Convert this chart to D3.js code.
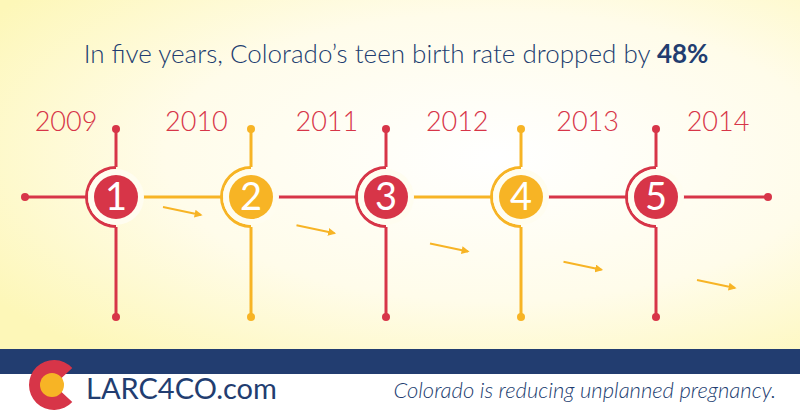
<!DOCTYPE html>
<html><head><meta charset="utf-8">
<script src="https://cdn.jsdelivr.net/npm/d3@7"></script>
<style>body{margin:0;overflow:hidden}svg{display:block}</style>
</head><body><div id="chart"></div>
<script>
const years = ['2009', '2010', '2011', '2012', '2013', '2014'];
const steps = [1, 2, 3, 4, 5];
const stepColors = ['red', 'yellow', 'red', 'yellow', 'red'];
const arrowDrop = [0, 1, 2, 3, 4]; // descending arrows between milestones

const W = 800, H = 418;
const RED = '#d73548', YEL = '#f7b425', NAVY = '#223d70';
const col = c => c === 'red' ? RED : YEL;

const svg = d3.select('#chart').append('svg').attr('width', W).attr('height', H);
const defs = svg.append('defs');
const g = defs.append('radialGradient').attr('id', 'bg').attr('cx', '62%').attr('cy', '45%').attr('r', '75%');
g.append('stop').attr('offset', '0%').attr('stop-color', '#ffffff');
g.append('stop').attr('offset', '55%').attr('stop-color', '#fffcea');
g.append('stop').attr('offset', '100%').attr('stop-color', '#fdf7b8');
svg.append('rect').attr('width', W).attr('height', 349).attr('fill', 'url(#bg)');

const x = d3.scalePoint().domain(steps).range([116, 656]);
const cy = 197;

svg.append('text').attr('x', 396).attr('y', 63).attr('text-anchor', 'middle')
  .attr('font-family', 'Lato, sans-serif').attr('font-weight', 300).attr('font-size', 26).attr('fill', NAVY)
  .text('In five years, Colorado\u2019s teen birth rate dropped by ')
  .append('tspan').attr('font-weight', 'bold').text('48%');

// horizontal segments
const segs = [[25, x(1), RED]];
steps.slice(0, -1).forEach((s, i) => segs.push([x(s), x(s + 1), col(stepColors[i + 1])]));
segs.push([x(5), 768, RED]);
svg.selectAll('.seg').data(segs).join('line')
  .attr('x1', d => d[0]).attr('x2', d => d[1]).attr('y1', cy).attr('y2', cy)
  .attr('stroke', d => d[2]).attr('stroke-width', 3);
svg.selectAll('.end').data([25, 768]).join('circle')
  .attr('cx', d => d).attr('cy', cy).attr('r', 4).attr('fill', RED);

// nodes
const node = svg.selectAll('.node').data(steps).join('g')
  .attr('transform', d => `translate(${x(d)},${cy})`);
node.append('line').attr('y1', -68).attr('y2', -30).attr('stroke', (d, i) => col(stepColors[i])).attr('stroke-width', 3);
node.append('line').attr('y1', 30).attr('y2', 120).attr('stroke', (d, i) => col(stepColors[i])).attr('stroke-width', 3);
node.append('circle').attr('cy', -68).attr('r', 4).attr('fill', (d, i) => col(stepColors[i]));
node.append('circle').attr('cy', 120).attr('r', 4).attr('fill', (d, i) => col(stepColors[i]));
node.append('path').attr('d', d3.arc()({innerRadius: 28, outerRadius: 31, startAngle: Math.PI, endAngle: 2 * Math.PI}))
  .attr('fill', (d, i) => col(stepColors[i]));
node.append('circle').attr('r', 28).attr('fill', '#fffdf0');
node.append('circle').attr('r', 22).attr('fill', (d, i) => col(stepColors[i]));
node.append('text').attr('y', 13).attr('text-anchor', 'middle')
  .attr('font-family', 'Lato, sans-serif').attr('font-size', 38).attr('fill', '#fff').text(d => d);

// year labels
const xy = d3.scalePoint().domain(years).range([66, 718]);
svg.selectAll('.yr').data(years).join('text')
  .attr('x', d => xy(d)).attr('y', 131).attr('text-anchor', 'middle')
  .attr('font-family', 'Lato, sans-serif').attr('font-weight', 300).attr('font-size', 27).attr('fill', RED).text(d => d);

// descending arrows
const ay = d3.scaleLinear().domain([0, 4]).range([211, 284]);
const ax = d3.scaleLinear().domain([0, 4]).range([182, 716]);
defs.append('marker').attr('id', 'ah').attr('viewBox', '0 0 10 10').attr('refX', 8).attr('refY', 5)
  .attr('markerWidth', 4).attr('markerHeight', 4).attr('orient', 'auto')
  .append('path').attr('d', 'M0,0L10,5L0,10z').attr('fill', YEL);
svg.selectAll('.arr').data(arrowDrop).join('line')
  .attr('x1', d => ax(d) - 19).attr('y1', d => ay(d) - 4)
  .attr('x2', d => ax(d) + 19).attr('y2', d => ay(d) + 4)
  .attr('stroke', YEL).attr('stroke-width', 2).attr('marker-end', 'url(#ah)');

// footer
svg.append('rect').attr('y', 349).attr('width', W).attr('height', 25).attr('fill', NAVY);
svg.append('rect').attr('y', 374).attr('width', W).attr('height', 44).attr('fill', '#fff');
svg.append('path').attr('transform', 'translate(54,385)')
  .attr('d', d3.arc()({innerRadius: 0, outerRadius: 25, startAngle: Math.PI / 2 + 0.75, endAngle: Math.PI / 2 + 2 * Math.PI - 0.75}))
  .attr('fill', RED);
svg.append('circle').attr('cx', 52).attr('cy', 385).attr('r', 12).attr('fill', YEL);
svg.append('text').attr('x', 86).attr('y', 399).attr('font-family', 'Lato, sans-serif')
  .attr('font-size', 29).attr('fill', NAVY).text('LARC4CO.com');
svg.append('text').attr('x', 776).attr('y', 398).attr('text-anchor', 'end').attr('font-family', 'Lato, sans-serif')
  .attr('font-style', 'italic').attr('font-weight', 300).attr('font-size', 22).attr('fill', NAVY).text('Colorado is reducing unplanned pregnancy.');
</script></body></html>
